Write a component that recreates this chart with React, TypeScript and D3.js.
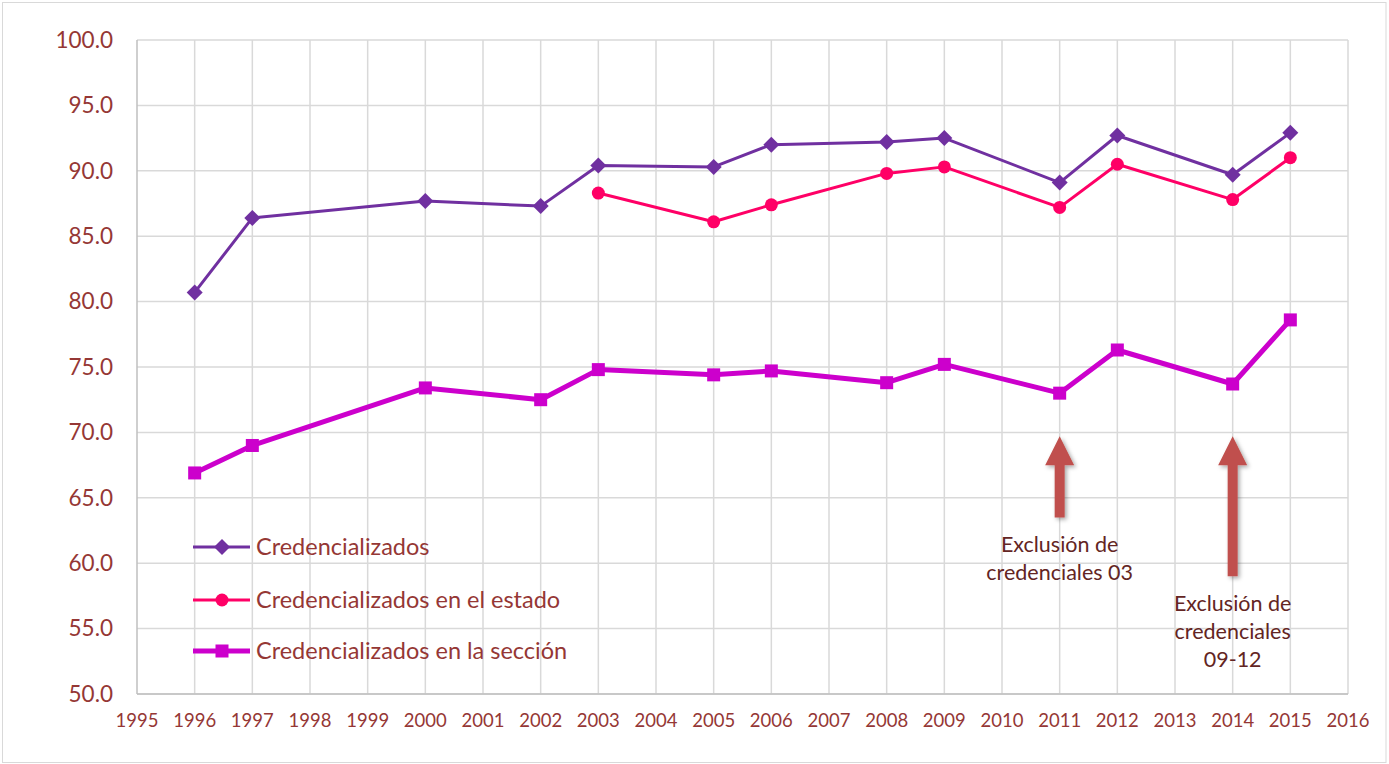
import { useEffect } from 'react'
import * as d3 from 'd3'

const years = [1996, 1997, 2000, 2002, 2003, 2005, 2006, 2008, 2009, 2011, 2012, 2014, 2015]
const credencializados = [80.7, 86.4, 87.7, 87.3, 90.4, 90.3, 92.0, 92.2, 92.5, 89.1, 92.7, 89.7, 92.9]
const enEstado = [null, null, null, null, 88.3, 86.1, 87.4, 89.8, 90.3, 87.2, 90.5, 87.8, 91.0]
const enSeccion = [66.9, 69.0, 73.4, 72.5, 74.8, 74.4, 74.7, 73.8, 75.2, 73.0, 76.3, 73.7, 78.6]

const yTicks = [50, 55, 60, 65, 70, 75, 80, 85, 90, 95, 100]
const xTicks = d3.range(1995, 2017)

const seriesNames = ['Credencializados', 'Credencializados en el estado', 'Credencializados en la sección']

// arrow annotations: year, tip value, tail value, text lines
const notes = [
  { year: 2011, tip: 69.7, tail: 63.5, lines: ['Exclusión de', 'credenciales 03'] },
  { year: 2014, tip: 69.7, tail: 59.0, lines: ['Exclusión de', 'credenciales', '09-12'] },
]

const W = 1389
const H = 764
const FONT = 'Lato, "Noto Sans", sans-serif'
const LABEL = '#953735'

export default function App() {
  useEffect(() => {
    document.body.style.margin = '0'
  }, [])

  const x = d3.scaleLinear().domain([1995, 2016]).range([137, 1348])
  const y = d3.scaleLinear().domain([50, 100]).range([694, 40])

  const series = [
    { name: seriesNames[0], values: credencializados, color: '#7030A0', width: 3, marker: 'diamond' },
    { name: seriesNames[1], values: enEstado, color: '#FF0066', width: 3, marker: 'circle' },
    { name: seriesNames[2], values: enSeccion, color: '#CC00CC', width: 5, marker: 'square' },
  ]

  const line = d3.line<[number, number | null]>()
    .defined(d => d[1] != null)
    .x(d => x(d[0]))
    .y(d => y(d[1] as number))

  const marker = (type: string, cx: number, cy: number, color: string, key: string | number) => {
    if (type === 'diamond') {
      const s = 8
      return <path key={key} d={`M${cx},${cy - s}L${cx + s},${cy}L${cx},${cy + s}L${cx - s},${cy}Z`} fill={color} />
    }
    if (type === 'circle') return <circle key={key} cx={cx} cy={cy} r={6.5} fill={color} />
    return <rect key={key} x={cx - 6.5} y={cy - 6.5} width={13} height={13} fill={color} />
  }

  const legendRows = [547, 600, 651]

  return (
    <svg width={W} height={H} style={{ display: 'block', fontFamily: FONT }}>
      <defs>
        <filter id="shadow" x="-50%" y="-20%" width="200%" height="140%">
          <feDropShadow dx="2" dy="2" stdDeviation="2" floodColor="#000" floodOpacity="0.35" />
        </filter>
      </defs>
      <rect x={0} y={0} width={W} height={H} fill="#fff" />
      <rect x={2.5} y={2.5} width={1383.5} height={760} fill="none" stroke="#d9d9d9" strokeWidth={1} />

      {/* grid */}
      {yTicks.map(t => (
        <line key={'gy' + t} x1={x(1995)} x2={x(2016)} y1={y(t)} y2={y(t)} stroke="#d9d9d9" strokeWidth={1.5} />
      ))}
      {xTicks.slice(1).map(t => (
        <line key={'gx' + t} x1={x(t)} x2={x(t)} y1={y(100)} y2={y(50)} stroke="#d9d9d9" strokeWidth={1.5} />
      ))}
      <line x1={x(1995)} x2={x(1995)} y1={y(100)} y2={y(50)} stroke="#bfbfbf" strokeWidth={1.5} />
      <line x1={x(1995)} x2={x(2016)} y1={y(50)} y2={y(50)} stroke="#bfbfbf" strokeWidth={1.5} />

      {/* tick labels */}
      {yTicks.map(t => (
        <text key={'ty' + t} x={113} y={y(t)} dy="0.35em" textAnchor="end" fontSize={22.5} fill={LABEL}>
          {d3.format('.1f')(t)}
        </text>
      ))}
      {xTicks.map(t => (
        <text key={'tx' + t} x={x(t)} y={721} dy="0.35em" textAnchor="middle" fontSize={18.5} fill={LABEL}>
          {t}
        </text>
      ))}

      {/* series */}
      {series.map(s => {
        const pts = years.map((yr, i) => [yr, s.values[i]] as [number, number | null])
        return (
          <g key={s.name}>
            <path d={line(pts) || ''} fill="none" stroke={s.color} strokeWidth={s.width} strokeLinejoin="round" />
            {pts.filter(p => p[1] != null).map((p, i) => marker(s.marker, x(p[0]), y(p[1] as number), s.color, i))}
          </g>
        )
      })}

      {/* arrows */}
      {notes.map(n => {
        const cx = x(n.year)
        const tipY = y(n.tip)
        const tailY = y(n.tail)
        const headY = tipY + 29
        const hw = 14.5
        const sw = 5
        const d = `M${cx},${tipY}L${cx + hw},${headY}L${cx + sw},${headY}L${cx + sw},${tailY}L${cx - sw},${tailY}L${cx - sw},${headY}L${cx - hw},${headY}Z`
        return (
          <g key={'n' + n.year}>
            <path d={d} fill="#C0504D" filter="url(#shadow)" />
            {n.lines.map((l, i) => (
              <text key={i} x={cx} y={tailY + 27 + i * 28} dy="0.35em" textAnchor="middle" fontSize={21.5} fill="#632523">
                {l}
              </text>
            ))}
          </g>
        )
      })}

      {/* legend */}
      {series.map((s, i) => (
        <g key={'lg' + i}>
          <line x1={193} x2={250} y1={legendRows[i]} y2={legendRows[i]} stroke={s.color} strokeWidth={s.width} />
          {marker(s.marker, 222, legendRows[i], s.color, 'm')}
          <text x={256} y={legendRows[i]} dy="0.35em" fontSize={23.5} fill={LABEL}>{s.name}</text>
        </g>
      ))}
    </svg>
  )
}
